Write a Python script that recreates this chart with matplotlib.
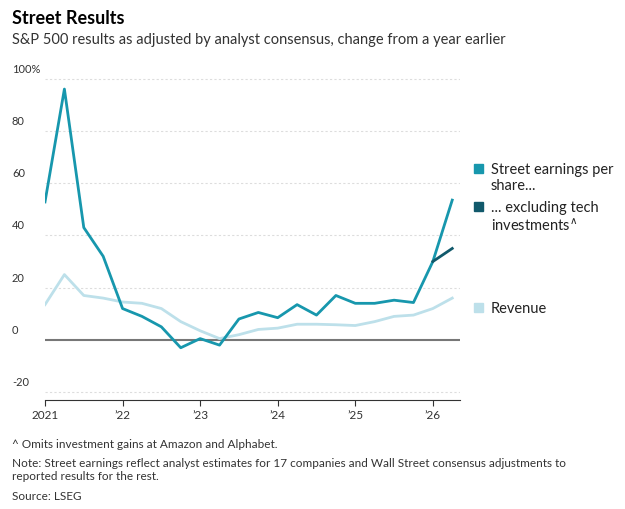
import numpy as np
import matplotlib
matplotlib.use("Agg")
import matplotlib.pyplot as plt

# quarterly data, starting 2021 Q1
quarters = 2021 + np.arange(22) * 0.25
eps = [52.8, 96, 43, 32, 12, 9, 5, -3, 0.5, -2, 8, 10.5, 8.5, 13.5, 9.5, 17,
       14, 14, 15.2, 14.3, 30, 53.5]
ex_tech = [30, 35]
revenue = [13.5, 25, 17, 16, 14.5, 14, 12, 7, 3.5, 0.5, 2, 4, 4.5, 6, 6, 5.8,
           5.5, 7, 9, 9.5, 12, 16]
x_ticks = [2021, 2022, 2023, 2024, 2025, 2026]
x_labels = ["2021", "’22", "’23", "’24", "’25", "’26"]
y_ticks = [-20, 0, 20, 40, 60, 80, 100]

c_eps = "#1797ad"
c_ex = "#11596b"
c_rev = "#bde0ea"

plt.rcParams['font.family'] = ['Lato', 'DejaVu Sans']
fig = plt.figure(figsize=(6.25, 5.09), dpi=100)
ax = fig.add_axes([45 / 625, 1 - 400 / 509, 415 / 625, 324 / 509])

ax.plot(quarters, revenue, color=c_rev, lw=2)
ax.plot(quarters, eps, color=c_eps, lw=2)
ax.plot(quarters[-2:], ex_tech, color=c_ex, lw=2)

ax.set_xlim(2021, 2026.35)
ax.set_ylim(-23, 101)
for y in y_ticks:
    if y == 0:
        ax.axhline(0, color="#777777", lw=1.5, zorder=0)
    else:
        ax.axhline(y, color="#dddddd", lw=0.8, ls=(0, (2, 2)), zorder=0)
    lab = "100%" if y == 100 else str(y)
    ax.text(-33 / 415, y + 1.5, lab, transform=ax.get_yaxis_transform(),
            fontsize=8, color="#333333", va="bottom", ha="left")
ax.set_yticks([])
ax.set_xticks(x_ticks)
ax.set_xticklabels(x_labels, fontsize=8.5, color="#333333")
ax.tick_params(axis="x", length=4, color="#333333")
for s in ["top", "right", "left"]:
    ax.spines[s].set_visible(False)
ax.spines["bottom"].set_color("#333333")

# legend
def leg(y, color, text):
    fig.patches.append(plt.Rectangle((474 / 625, 1 - (y + 5) / 509), 9 / 625, 9 / 509,
                                     transform=fig.transFigure, color=color))
    fig.text(491 / 625, 1 - (y - 5) / 509, text, fontsize=10.5, va="top", color="#222222")

leg(168, c_eps, "Street earnings per\nshare...")
leg(206, c_ex, "... excluding tech\ninvestments$^{\\wedge}$")
leg(307, c_rev, "Revenue")

fig.text(12 / 625, 1 - 18 / 509, "Street Results", fontsize=13, fontweight="bold", va="center")
fig.text(12 / 625, 1 - 40 / 509, "S&P 500 results as adjusted by analyst consensus, change from a year earlier",
         fontsize=10.5, va="center", color="#333333")
fig.text(12 / 625, 1 - 444 / 509, "^ Omits investment gains at Amazon and Alphabet.", fontsize=8.5,
         va="center", color="#333333")
fig.text(12 / 625, 1 - 470 / 509, "Note: Street earnings reflect analyst estimates for 17 companies and Wall Street consensus adjustments to\nreported results for the rest.",
         fontsize=8.5, va="center", color="#333333", linespacing=1.3)
fig.text(12 / 625, 1 - 496 / 509, "Source: LSEG", fontsize=8.5, va="center", color="#333333")

fig.savefig("out.png", dpi=100)
